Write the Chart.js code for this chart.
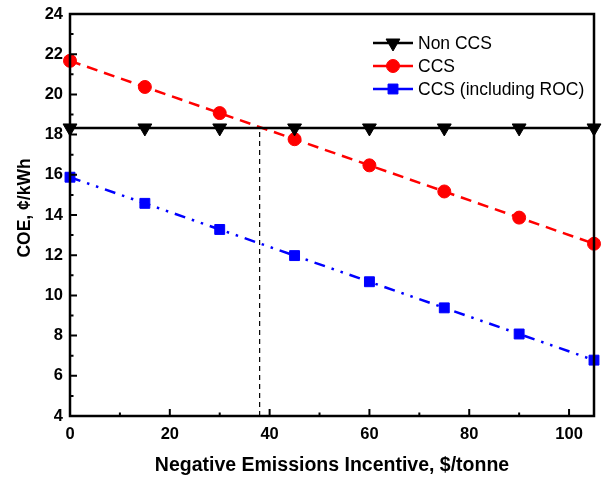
<!DOCTYPE html>
<html>
<head>
<meta charset="utf-8">
<script src="https://cdn.jsdelivr.net/npm/chart.js@4/dist/chart.umd.min.js"></script>
<style>
  html, body { margin: 0; padding: 0; background: #fff; }
  #wrap { width: 607px; height: 477px; }
</style>
</head>
<body>
<div id="wrap"><canvas id="coe" width="607" height="477"></canvas></div>
<script>
// incentive levels, $/tonne
const incentive = [0, 15, 30, 45, 60, 75, 90, 105];
// cost of electricity, ¢/kWh
const nonCcs = [18.33, 18.33, 18.33, 18.33, 18.33, 18.33, 18.33, 18.33];
const ccs = [21.67, 20.37, 19.07, 17.77, 16.47, 15.17, 13.87, 12.57];
const ccsRoc = [15.88, 14.58, 13.28, 11.98, 10.68, 9.38, 8.08, 6.78];
// break-even marker
const breakEvenX = [38, 38];
const breakEvenY = [4, 18.33];

const xTicks = [0, 20, 40, 60, 80, 100];
const yTicks = [4, 6, 8, 10, 12, 14, 16, 18, 20, 22, 24];

const pts = (xs, ys) => xs.map((x, i) => ({ x, y: ys[i] }));

const FONT = "'Liberation Sans', Arial, sans-serif";

// frame, inward ticks, y title, legend with line + marker
const framePlugin = {
  id: 'frame',
  afterDraw(chart) {
    const ctx = chart.ctx;
    const a = chart.chartArea;
    const xs = chart.scales.x, ys = chart.scales.y;
    ctx.save();
    ctx.strokeStyle = '#000';
    ctx.lineWidth = 2.5;
    ctx.strokeRect(a.left, a.top, a.right - a.left, a.bottom - a.top);

    ctx.lineWidth = 2;
    ctx.beginPath();
    for (let v = 0; v <= 100; v += 10) {
      const px = xs.getPixelForValue(v);
      const len = v % 20 === 0 ? 7 : 3.5;
      ctx.moveTo(px, a.bottom);
      ctx.lineTo(px, a.bottom - len);
    }
    for (let v = 5; v < 24; v += 1) {
      const py = ys.getPixelForValue(v);
      const len = v % 2 === 0 ? 7 : 3.5;
      ctx.moveTo(a.left, py);
      ctx.lineTo(a.left + len, py);
    }
    ctx.stroke();

    // y axis title
    ctx.save();
    ctx.translate(25, 208);
    ctx.rotate(-Math.PI / 2);
    ctx.fillStyle = '#000';
    ctx.font = 'bold 17.5px ' + FONT;
    ctx.textAlign = 'center';
    ctx.textBaseline = 'middle';
    ctx.fillText('COE, ¢/kWh', 0, 0);
    ctx.restore();

    // legend
    const items = chart.data.datasets.filter(d => d.inLegend);
    items.forEach((d, i) => {
      const y = 43 + i * 23;
      ctx.strokeStyle = d.borderColor;
      ctx.fillStyle = d.backgroundColor;
      ctx.lineWidth = 2.5;
      ctx.setLineDash([]);
      ctx.beginPath();
      ctx.moveTo(373, y);
      ctx.lineTo(413, y);
      ctx.stroke();
      ctx.lineWidth = 1;
      Chart.helpers.drawPoint(ctx, {
        pointStyle: d.pointStyle,
        radius: d.pointRadius,
        rotation: d.pointRotation || 0,
        borderWidth: 1
      }, 393, y);
      ctx.fillStyle = '#000';
      ctx.font = '17.5px ' + FONT;
      ctx.textBaseline = 'middle';
      ctx.textAlign = 'left';
      ctx.fillText(d.label, 418, y + 1);
    });
    ctx.restore();
  }
};

new Chart(document.getElementById('coe'), {
  type: 'line',
  data: {
    datasets: [
      {
        label: 'Non CCS',
        inLegend: true,
        data: pts(incentive, nonCcs),
        borderColor: '#000',
        backgroundColor: '#000',
        borderWidth: 2.5,
        pointStyle: 'triangle',
        pointRotation: 180,
        pointRadius: 8,
        pointBorderWidth: 1,
        clip: false
      },
      {
        label: 'CCS',
        inLegend: true,
        data: pts(incentive, ccs),
        borderColor: '#ff0000',
        backgroundColor: '#ff0000',
        borderWidth: 2.5,
        borderDash: [11, 7],
        pointStyle: 'circle',
        pointRadius: 6.5,
        pointBorderWidth: 1,
        clip: false
      },
      {
        label: 'CCS (including ROC)',
        inLegend: true,
        data: pts(incentive, ccsRoc),
        borderColor: '#0000ff',
        backgroundColor: '#0000ff',
        borderWidth: 2.5,
        borderDash: [11, 7, 2.5, 7, 2.5, 7],
        pointStyle: 'rect',
        pointRadius: 7,
        pointBorderWidth: 1,
        clip: false
      },
      {
        label: 'break-even',
        data: pts(breakEvenX, breakEvenY),
        borderColor: '#000',
        borderWidth: 1.2,
        borderDash: [5, 4],
        pointRadius: 0
      }
    ]
  },
  options: {
    responsive: false,
    animation: false,
    events: [],
    layout: { padding: { top: 14, right: 13, left: 0, bottom: 0 } },
    plugins: {
      legend: { display: false },
      tooltip: { enabled: false }
    },
    scales: {
      x: {
        type: 'linear',
        min: 0,
        max: 105,
        afterBuildTicks: s => { s.ticks = xTicks.map(v => ({ value: v })); },
        afterFit: s => { s.height = 61; s.paddingLeft = 0; s.paddingRight = 0; },
        grid: { display: false, drawTicks: false },
        border: { display: false },
        ticks: { color: '#000', padding: 9, font: { family: FONT, size: 16.5, weight: 'bold' } },
        title: {
          display: true,
          text: 'Negative Emissions Incentive, $/tonne',
          color: '#000',
          padding: { top: 3, bottom: 0 },
          font: { family: FONT, size: 19.5, weight: 'bold', lineHeight: 1.2 }
        }
      },
      y: {
        type: 'linear',
        min: 4,
        max: 24,
        afterBuildTicks: s => { s.ticks = yTicks.map(v => ({ value: v })); },
        afterFit: s => { s.width = 70; s.paddingTop = 0; s.paddingBottom = 0; },
        grid: { display: false, drawTicks: false },
        border: { display: false },
        ticks: { color: '#000', padding: 7, font: { family: FONT, size: 16.5, weight: 'bold' } },
        title: { display: false }
      }
    }
  },
  plugins: [framePlugin]
});
</script>
</body>
</html>
